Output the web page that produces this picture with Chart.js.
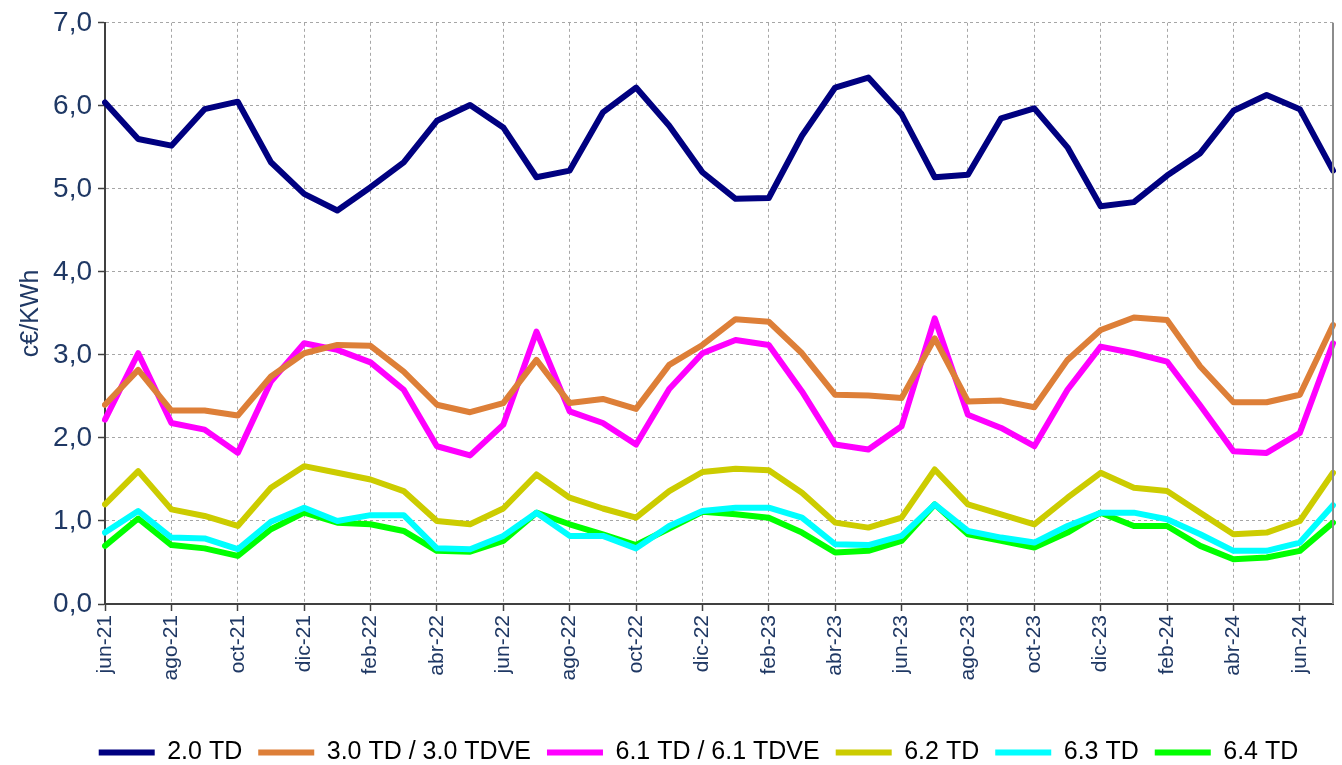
<!DOCTYPE html>
<html>
<head>
<meta charset="utf-8">
<script src="https://cdn.jsdelivr.net/npm/chart.js@4.4.1/dist/chart.umd.min.js"></script>
<style>
  html, body { margin: 0; padding: 0; background: #fff; }
  #wrap { width: 1342px; height: 765px; }
</style>
</head>
<body>
<div id="wrap"><canvas id="chart"></canvas></div>
<script>
// Months (jun-21 .. jul-24)
const months = [
    'jun-21', 'jul-21', 'ago-21', 'sep-21', 'oct-21', 'nov-21', 'dic-21',
    'ene-22', 'feb-22', 'mar-22', 'abr-22', 'may-22', 'jun-22', 'jul-22', 'ago-22', 'sep-22', 'oct-22', 'nov-22', 'dic-22',
    'ene-23', 'feb-23', 'mar-23', 'abr-23', 'may-23', 'jun-23', 'jul-23', 'ago-23', 'sep-23', 'oct-23', 'nov-23', 'dic-23',
    'ene-24', 'feb-24', 'mar-24', 'abr-24', 'may-24', 'jun-24', 'jul-24'
];

// c€/KWh per tariff
const td20 = [6.04, 5.60, 5.52, 5.96, 6.05, 5.32, 4.94, 4.74, 5.02, 5.32, 5.82, 6.01, 5.74,
    5.14, 5.22, 5.92, 6.22, 5.76, 5.20, 4.88, 4.89, 5.64, 6.22, 6.34, 5.90,
    5.14, 5.17, 5.85, 5.97, 5.50, 4.79, 4.84, 5.16, 5.43, 5.94, 6.13, 5.96, 5.22];
const td30 = [2.40, 2.82, 2.33, 2.33, 2.27, 2.74, 3.02, 3.12, 3.11, 2.80, 2.40, 2.31, 2.42,
    2.94, 2.42, 2.47, 2.35, 2.88, 3.12, 3.43, 3.40, 3.02, 2.52, 2.51, 2.48,
    3.20, 2.44, 2.45, 2.37, 2.94, 3.30, 3.45, 3.42, 2.86, 2.43, 2.43, 2.52, 3.36];
const td61 = [2.22, 3.02, 2.18, 2.10, 1.82, 2.68, 3.14, 3.06, 2.91, 2.58, 1.90, 1.79, 2.16,
    3.28, 2.32, 2.18, 1.92, 2.59, 3.02, 3.18, 3.12, 2.56, 1.92, 1.86, 2.14,
    3.44, 2.28, 2.12, 1.90, 2.58, 3.10, 3.02, 2.92, 2.39, 1.84, 1.82, 2.06, 3.14];
const td62 = [1.20, 1.60, 1.14, 1.06, 0.94, 1.40, 1.66, 1.58, 1.50, 1.36, 1.00, 0.96, 1.15,
    1.56, 1.28, 1.15, 1.04, 1.36, 1.59, 1.63, 1.61, 1.34, 0.98, 0.92, 1.04,
    1.62, 1.20, 1.08, 0.96, 1.28, 1.58, 1.40, 1.36, 1.10, 0.84, 0.86, 1.00, 1.58];
const td63 = [0.86, 1.12, 0.80, 0.79, 0.66, 0.99, 1.16, 1.00, 1.07, 1.07, 0.67, 0.66, 0.82,
    1.10, 0.82, 0.82, 0.67, 0.94, 1.12, 1.16, 1.16, 1.04, 0.72, 0.71, 0.82,
    1.20, 0.88, 0.80, 0.74, 0.94, 1.10, 1.10, 1.02, 0.84, 0.64, 0.64, 0.74, 1.19];
const td64 = [0.70, 1.03, 0.71, 0.67, 0.58, 0.90, 1.10, 0.98, 0.96, 0.88, 0.64, 0.63, 0.76,
    1.10, 0.96, 0.84, 0.71, 0.91, 1.11, 1.08, 1.04, 0.86, 0.62, 0.64, 0.76,
    1.20, 0.84, 0.76, 0.68, 0.86, 1.10, 0.94, 0.94, 0.70, 0.54, 0.56, 0.64, 0.98];

const seriesNames = ['2.0 TD', '3.0 TD / 3.0 TDVE', '6.1 TD / 6.1 TDVE', '6.2 TD', '6.3 TD', '6.4 TD'];
const seriesColors = ['#000080', '#DD7F38', '#FF00FF', '#CCCC00', '#00FFFF', '#00FF00'];
const seriesData = [td20, td30, td61, td62, td63, td64];

const axisColor = '#1F3864';
const gridColor = '#A6A6A6';
const fontFamily = 'Liberation Sans, Arial, sans-serif';

// Right frame line of the plot area, and legend nudged right like the original
const frameRight = {
    id: 'frameRight',
    afterLayout(chart) {
        chart.legend.left += 32;
        chart.legend.right += 32;
    },
    afterDraw(chart) {
        const { ctx, chartArea } = chart;
        ctx.save();
        ctx.strokeStyle = '#8C8C8C';
        ctx.lineWidth = 2;
        ctx.beginPath();
        ctx.moveTo(chartArea.right, chartArea.top);
        ctx.lineTo(chartArea.right, chartArea.bottom);
        ctx.stroke();
        ctx.restore();
    }
};

const datasets = seriesNames.map((name, i) => ({
    label: name,
    data: seriesData[i],
    borderColor: seriesColors[i],
    backgroundColor: seriesColors[i],
    borderWidth: 6,
    borderCapStyle: 'round',
    borderJoinStyle: 'round',
    pointRadius: 0,
    tension: 0
}));

new Chart(document.getElementById('chart'), {
    type: 'line',
    data: { labels: months, datasets: datasets },
    options: {
        responsive: true,
        maintainAspectRatio: false,
        animation: false,
        layout: { padding: { top: 0, right: 9, left: 0, bottom: -10 } },
        plugins: {
            tooltip: { enabled: false },
            legend: {
                position: 'bottom',
                labels: {
                    usePointStyle: true,
                    pointStyle: 'line',
                    pointStyleWidth: 56,
                    boxHeight: 8,
                    padding: 16,
                    color: '#000',
                    font: { family: fontFamily, size: 25 }
                }
            }
        },
        scales: {
            x: {
                type: 'category',
                offset: false,
                afterFit(scale) { scale.height = 120; },
                ticks: {
                    autoSkip: false,
                    minRotation: 90,
                    maxRotation: 90,
                    color: axisColor,
                    padding: 4,
                    font: { family: fontFamily, size: 21 },
                    callback(value, index) {
                        return index % 2 === 0 ? months[index] : null;
                    }
                },
                grid: {
                    color: gridColor,
                    lineWidth: 1,
                    tickBorderDash: [],
                    tickColor: '#404040',
                    tickLength: 7,
                    tickWidth: 1.5
                },
                border: { display: true, color: '#404040', width: 2, dash: [3, 3] }
            },
            y: {
                min: 0,
                max: 7,
                afterFit(scale) { scale.width = 105; },
                ticks: {
                    stepSize: 1,
                    color: axisColor,
                    padding: 6,
                    font: { family: fontFamily, size: 28 },
                    callback(value) { return value.toFixed(1).replace('.', ','); }
                },
                title: {
                    display: true,
                    text: 'c€/KWh',
                    color: axisColor,
                    padding: { top: 16, bottom: 0 },
                    font: { family: fontFamily, size: 25 }
                },
                grid: {
                    color: gridColor,
                    lineWidth: 1,
                    tickBorderDash: [],
                    tickColor: '#404040',
                    tickLength: 7,
                    tickWidth: 1.5
                },
                border: { display: true, color: '#404040', width: 2, dash: [3, 3] }
            }
        }
    },
    plugins: [frameRight]
});
</script>
</body>
</html>
